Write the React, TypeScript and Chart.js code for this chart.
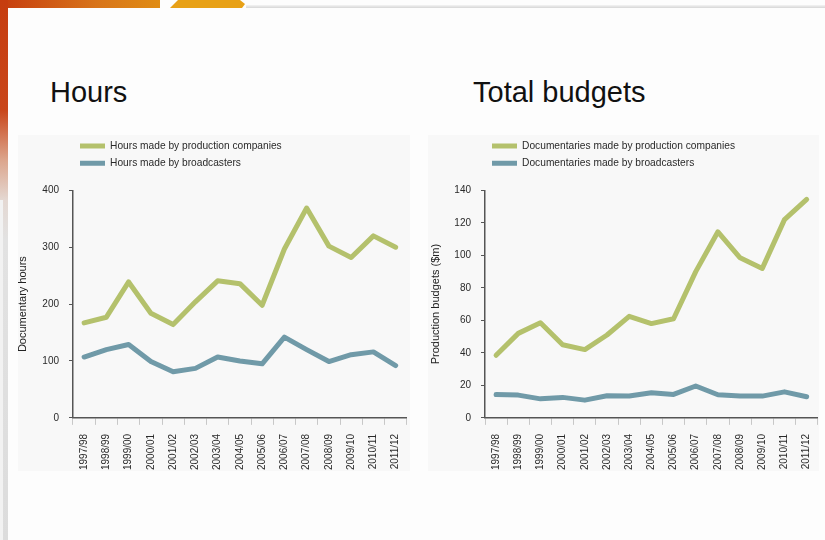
import React, { useEffect, useRef } from 'react';
import { Chart, registerables } from 'chart.js';

Chart.register(...registerables);

const categories = [
  '1997/98', '1998/99', '1999/00', '2000/01', '2001/02', '2002/03', '2003/04', '2004/05',
  '2005/06', '2006/07', '2007/08', '2008/09', '2009/10', '2010/11', '2011/12',
];

const hoursProduction = [167, 177, 239, 184, 164, 204, 241, 236, 198, 297, 369, 302, 282, 320, 300];
const hoursBroadcasters = [107, 120, 129, 99, 81, 87, 107, 100, 95, 142, 120, 99, 111, 116, 92];

const budgetProduction = [38.5, 52, 58.5, 45, 42, 51, 62.5, 58, 61, 90, 114.5, 98.5, 92, 122, 134.5];
const budgetBroadcasters = [14.4, 14, 11.7, 12.6, 10.9, 13.6, 13.4, 15.4, 14.4, 19.6, 14.2, 13.4, 13.4, 16, 13];

const hoursLabels = ['Hours made by production companies', 'Hours made by broadcasters'];
const budgetLabels = ['Documentaries made by production companies', 'Documentaries made by broadcasters'];

const GREEN = '#b4c16c';
const BLUE = '#709aa8';
const FONT = "'Liberation Sans', Arial, Helvetica, sans-serif";

const legendGap = {
  id: 'legendGap',
  afterInit(chart: any) {
    const lg = chart.legend;
    if (!lg) return;
    const fit = lg.fit;
    lg.fit = function () {
      fit.call(this);
      this.height += 12;
    };
  },
};

type Props = {
  left: number;
  top: number;
  width: number;
  height: number;
  axisWidth: number;
  yTitle: string;
  yMax: number;
  yStep: number;
  prod: number[];
  broad: number[];
  labels: string[];
};

function LineChart(p: Props) {
  const ref = useRef<HTMLCanvasElement | null>(null);
  useEffect(() => {
    if (!ref.current) return;
    const tickFont = { family: FONT, size: 10 };
    const chart = new Chart(ref.current, {
      type: 'line',
      data: {
        labels: categories,
        datasets: [
          {
            label: p.labels[0],
            data: p.prod,
            borderColor: GREEN,
            backgroundColor: GREEN,
            borderWidth: 5,
            pointRadius: 0,
            tension: 0,
            borderCapStyle: 'round',
            borderJoinStyle: 'round',
          },
          {
            label: p.labels[1],
            data: p.broad,
            borderColor: BLUE,
            backgroundColor: BLUE,
            borderWidth: 5,
            pointRadius: 0,
            tension: 0,
            borderCapStyle: 'round',
            borderJoinStyle: 'round',
          },
        ],
      },
      options: {
        responsive: false,
        animation: false,
        maintainAspectRatio: false,
        layout: { padding: 0 },
        plugins: {
          tooltip: { enabled: false },
          legend: {
            position: 'top',
            align: 'start',
            fullSize: false,
            labels: {
              usePointStyle: true,
              pointStyle: 'line',
              pointStyleWidth: 25,
              boxHeight: 10,
              padding: 7,
              color: '#2a2a2a',
              font: { family: FONT, size: 10.2 },
            },
          },
        },
        scales: {
          x: {
            offset: true,
            grid: {
              offset: true,
              drawOnChartArea: false,
              drawTicks: true,
              tickLength: 7,
              color: '#c8c8c8',
            },
            border: { display: true, color: '#555', width: 1.5 },
            ticks: {
              autoSkip: false,
              minRotation: 90,
              maxRotation: 90,
              padding: 9,
              color: '#2a2a2a',
              font: tickFont,
            },
          },
          y: {
            min: 0,
            max: p.yMax,
            afterFit: (scale: any) => {
              scale.width = p.axisWidth;
            },
            grid: { drawOnChartArea: false, tickLength: 4, color: '#555' },
            border: { display: true, color: '#555', width: 1.5 },
            ticks: { stepSize: p.yStep, padding: 10, color: '#2a2a2a', font: tickFont },
            title: {
              display: true,
              text: p.yTitle,
              color: '#222',
              font: { family: FONT, size: 11 },
              padding: { top: 0, bottom: 0 },
            },
          },
        },
      },
      plugins: [legendGap],
    } as any);
    return () => chart.destroy();
  }, []);
  return (
    <canvas
      ref={ref}
      width={p.width}
      height={p.height}
      style={{ position: 'absolute', left: p.left, top: p.top, width: p.width, height: p.height }}
    />
  );
}

const titleStyle: React.CSSProperties = {
  position: 'absolute',
  fontFamily: FONT,
  fontSize: 29,
  lineHeight: '29px',
  color: '#111',
  whiteSpace: 'nowrap',
};

export default function App() {
  return (
    <div
      style={{
        position: 'fixed',
        left: 0,
        top: 0,
        width: 825,
        height: 540,
        overflow: 'hidden',
        background: '#fdfdfd',
      }}
    >
      {/* decorative slide frame */}
      <div
        style={{
          position: 'absolute',
          left: 0,
          top: 0,
          width: 160,
          height: 8,
          background: 'linear-gradient(to right, #c63d0f, #d8741a 60%, #e08c14)',
        }}
      />
      <div
        style={{
          position: 'absolute',
          left: 168,
          top: 0,
          width: 78,
          height: 8,
          background: '#e8a117',
          clipPath: 'polygon(10px 0, 72px 0, 77px 4px, 74px 8px, 2px 8px)',
        }}
      />
      <div
        style={{
          position: 'absolute',
          left: 246,
          top: 5,
          width: 579,
          height: 3,
          background: 'linear-gradient(to bottom, #f4f4f4, #d6d6d6)',
        }}
      />
      <div
        style={{
          position: 'absolute',
          left: 0,
          top: 0,
          width: 8,
          height: 540,
          background:
            'linear-gradient(to bottom, #c63d0f 0px, #c9461a 110px, #dca58c 160px, #e4d8d2 200px, #e2e2e2 240px, #dcdcdc 540px)',
        }}
      />
      <div style={{ position: 'absolute', left: 0, top: 200, width: 3, height: 340, background: '#f2f2f2' }} />

      {/* panels */}
      <div style={{ position: 'absolute', left: 18, top: 135, width: 392, height: 336, background: '#f8f8f8' }} />
      <div style={{ position: 'absolute', left: 428, top: 135, width: 391, height: 336, background: '#f8f8f8' }} />

      <div style={{ ...titleStyle, left: 50, top: 78 }}>Hours</div>
      <div style={{ ...titleStyle, left: 473, top: 78 }}>Total budgets</div>

      <LineChart
        left={16}
        top={134}
        width={401}
        height={345}
        axisWidth={57}
        yTitle="Documentary hours"
        yMax={400}
        yStep={100}
        prod={hoursProduction}
        broad={hoursBroadcasters}
        labels={hoursLabels}
      />
      <LineChart
        left={429}
        top={134}
        width={399}
        height={345}
        axisWidth={56}
        yTitle="Production budgets ($m)"
        yMax={140}
        yStep={20}
        prod={budgetProduction}
        broad={budgetBroadcasters}
        labels={budgetLabels}
      />
    </div>
  );
}
